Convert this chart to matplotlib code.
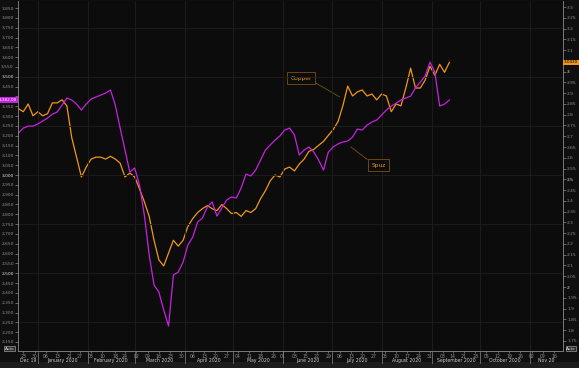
import matplotlib
matplotlib.use("Agg")
import matplotlib.pyplot as plt
import matplotlib.dates as mdates
import matplotlib.ticker as mticker
import pandas as pd

dates = pd.date_range("2019-12-20", periods=90, freq="3D")

spuz = [3214, 3239, 3249, 3249, 3260, 3275, 3290, 3310, 3321, 3356,
        3392, 3382, 3361, 3331, 3361, 3387, 3397, 3407, 3417, 3433,
        3356, 3239, 3127, 3015, 3036, 2949, 2796, 2593, 2440, 2404,
        2313, 2231, 2491, 2506, 2557, 2644, 2684, 2761, 2781, 2837,
        2863, 2791, 2832, 2873, 2888, 2883, 2934, 3005, 2995, 3025,
        3076, 3127, 3153, 3178, 3199, 3229, 3239, 3204, 3102, 3127,
        3143, 3117, 3076, 3025, 3117, 3143, 3158, 3168, 3173, 3193,
        3234, 3229, 3254, 3270, 3280, 3305, 3331, 3351, 3366, 3382,
        3392, 3402, 3443, 3473, 3504, 3575, 3524, 3351, 3361, 3382]

copper = [2.828, 2.814, 2.850, 2.795, 2.814, 2.795, 2.805, 2.855, 2.855, 2.869,
          2.841, 2.694, 2.603, 2.511, 2.557, 2.594, 2.603, 2.603, 2.594, 2.607,
          2.594, 2.575, 2.511, 2.529, 2.511, 2.456, 2.396, 2.328, 2.217, 2.126,
          2.098, 2.158, 2.217, 2.190, 2.217, 2.282, 2.318, 2.346, 2.364, 2.378,
          2.364, 2.355, 2.383, 2.364, 2.341, 2.346, 2.328, 2.355, 2.346, 2.364,
          2.410, 2.447, 2.493, 2.520, 2.511, 2.548, 2.557, 2.539, 2.571, 2.594,
          2.630, 2.639, 2.658, 2.676, 2.704, 2.731, 2.768, 2.841, 2.933, 2.887,
          2.906, 2.915, 2.887, 2.896, 2.869, 2.896, 2.887, 2.814, 2.850, 2.841,
          2.924, 3.016, 2.924, 2.924, 2.961, 3.025, 2.983, 3.034, 2.997, 3.043]

# weekly x tick dates (first trading day of each week)
week_ticks = ["2019-12-23", "2019-12-30", "2020-01-06", "2020-01-13", "2020-01-21",
              "2020-01-27", "2020-02-03", "2020-02-10", "2020-02-18", "2020-02-24",
              "2020-03-02", "2020-03-09", "2020-03-16", "2020-03-23", "2020-03-30",
              "2020-04-06", "2020-04-13", "2020-04-20", "2020-04-27", "2020-05-04",
              "2020-05-11", "2020-05-18", "2020-05-26", "2020-06-01", "2020-06-08",
              "2020-06-15", "2020-06-22", "2020-06-29", "2020-07-06", "2020-07-13",
              "2020-07-20", "2020-07-27", "2020-08-03", "2020-08-10", "2020-08-17",
              "2020-08-24", "2020-08-31", "2020-09-08", "2020-09-14", "2020-09-21",
              "2020-09-28", "2020-10-05", "2020-10-12", "2020-10-19", "2020-10-26",
              "2020-11-02", "2020-11-09", "2020-11-16"]

months = ["2019-12-01", "2020-01-01", "2020-02-01", "2020-03-01", "2020-04-01",
          "2020-05-01", "2020-06-01", "2020-07-01", "2020-08-01", "2020-09-01",
          "2020-10-01", "2020-11-01", "2020-12-01"]
month_labels = ["Dec 19", "January 2020", "February 2020", "March 2020", "April 2020",
                "May 2020", "June 2020", "July 2020", "August 2020", "September 2020",
                "October 2020", "Nov 20"]

PURPLE = "#c522e0"
ORANGE = "#f0961a"
BG = "#0c0c0c"
FIG_BG = "#0f0f0f"
GRID = "#1f1f1f"
TXT = "#8f8f8f"
SPINE = "#8a8a8a"

fig = plt.figure(figsize=(5.79, 3.68), dpi=100, facecolor=FIG_BG)
# lighter strip along the bottom edge
fig.patches.append(plt.Rectangle((0, 0), 1, 6 / 368, transform=fig.transFigure,
                                 fc="#1c1c1c", ec="none", zorder=0))
ax = fig.add_axes([18 / 579, 1 - 351 / 368, 545 / 579, 350 / 368])
ax2 = ax.twinx()

x0 = pd.Timestamp("2019-12-19 17:00")
x1 = pd.Timestamp("2020-11-21 10:00")
ax.set_xlim(x0, x1)
ax.set_ylim(2104, 3886)
ax2.set_ylim(1.703, 3.328)

# purple on top of orange, background on the lower axes
ax.set_zorder(2)
ax.patch.set_visible(False)
ax2.set_zorder(1)
ax2.patch.set_visible(True)
ax2.set_facecolor(BG)

# grid
for m in months[1:-1]:
    ax.axvline(pd.Timestamp(m), color=GRID, lw=0.6, zorder=0)
for v in range(2250, 3851, 250):
    ax.axhline(v, color=GRID, lw=0.6, zorder=0)

ax2.plot(dates, copper, color=ORANGE, lw=0.9)
ax.plot(dates, spuz, color=PURPLE, lw=0.9)

for a in (ax, ax2):
    for s in a.spines.values():
        s.set_visible(False)
for a, side in ((ax, "left"), (ax, "bottom"), (ax2, "right")):
    a.spines[side].set_visible(True)
    a.spines[side].set_color(SPINE)
    a.spines[side].set_linewidth(0.6)

# left axis ticks (3,400 is hidden under the last-value tag)
lticks = list(range(2150, 3851, 50))
ax.yaxis.set_major_locator(mticker.FixedLocator(lticks))
ax.set_yticklabels(["" if v == 3400 else f"{v:,}" for v in lticks])
ax.tick_params(axis="y", length=2, width=0.5, color=SPINE, labelsize=3.2,
               labelcolor=TXT, pad=1)
for v, lab in zip(lticks, ax.get_yticklabels()):
    if v % 500 == 0:
        lab.set_color("#e6e6e6")

# right axis ticks (3.05 is hidden under the last-value tag)
rticks = [round(1.75 + 0.05 * i, 2) for i in range(32)]
ax2.yaxis.set_major_locator(mticker.FixedLocator(rticks))
ax2.set_yticklabels(["" if v == 3.05 else ("%.2f" % v).rstrip("0").rstrip(".")
                     for v in rticks])
ax2.tick_params(axis="y", length=2, width=0.5, color=SPINE, labelsize=3.2,
                labelcolor=TXT, pad=1)
for v, lab in zip(rticks, ax2.get_yticklabels()):
    if abs(v * 2 - round(v * 2)) < 1e-6:
        lab.set_color("#e6e6e6")

# x axis: week days + month names
ax.xaxis.set_major_locator(mticker.FixedLocator(mdates.date2num(pd.to_datetime(week_ticks))))
ax.set_xticklabels([d[-2:] for d in week_ticks])
ax.tick_params(axis="x", length=1.5, width=0.5, color=SPINE, labelsize=3.3,
               labelcolor=TXT, pad=0.8)
ax2.tick_params(axis="x", bottom=False, labelbottom=False)

trans = ax.get_xaxis_transform()
mstarts = pd.to_datetime(months)
for i, lab in enumerate(month_labels):
    a = max(mstarts[i], x0)
    b = min(mstarts[i + 1], x1)
    mid = a + (b - a) / 2
    ax.text(mid, -0.027, lab, transform=trans, ha="center", va="center",
            fontsize=3.3, color="#d0d0d0", clip_on=False)
for m in mstarts[1:-1]:
    ax.plot([m, m], [-0.002, -0.035], transform=trans, color=SPINE, lw=0.5,
            clip_on=False)

# last value tags
ax.annotate(f"{spuz[-1]:,.2f}", xy=(0, spuz[-1]), xycoords=ax.get_yaxis_transform(),
            xytext=(-0.8, 0), textcoords="offset points", ha="right", va="center",
            fontsize=3.0, color="white",
            bbox=dict(boxstyle="square,pad=0.2", fc=PURPLE, ec="none"),
            annotation_clip=False, zorder=10)
ax2.annotate(f"{copper[-1]:.4f}", xy=(1, copper[-1]), xycoords=ax2.get_yaxis_transform(),
             xytext=(0.8, 0), textcoords="offset points", ha="left", va="center",
             fontsize=3.0, color="black",
             bbox=dict(boxstyle="square,pad=0.2", fc=ORANGE, ec="none"),
             annotation_clip=False, zorder=10)

# series labels
box = dict(boxstyle="square,pad=0.6", fc=BG, ec="#7a5010", lw=0.6)
ax2.annotate("Copper", xy=(pd.Timestamp("2020-07-06"), 2.883),
             xytext=(pd.Timestamp("2020-06-12"), 2.970), fontsize=4.2, color=ORANGE,
             ha="center", va="center", bbox=box,
             arrowprops=dict(arrowstyle="-", color="#7a5010", lw=0.6,
                             relpos=(1, 0), shrinkA=0, shrinkB=0))
ax.annotate("Spuz", xy=(pd.Timestamp("2020-07-13"), 3143),
            xytext=(pd.Timestamp("2020-07-30"), 3051), fontsize=4.2, color=ORANGE,
            ha="center", va="center", bbox=box,
            arrowprops=dict(arrowstyle="-", color="#7a5010", lw=0.6,
                            relpos=(0, 1), shrinkA=0, shrinkB=0))

# "Auto" boxes
for xf in (9.5 / 579, 571 / 579):
    fig.text(xf, 1 - 348.5 / 368, "Auto", fontsize=3.0, color="#e0e0e0",
             ha="center", va="center",
             bbox=dict(boxstyle="square,pad=0.15", fc="#2a2a2a", ec="#bbbbbb", lw=0.4))

fig.savefig("out.png", dpi=100, facecolor=FIG_BG)
